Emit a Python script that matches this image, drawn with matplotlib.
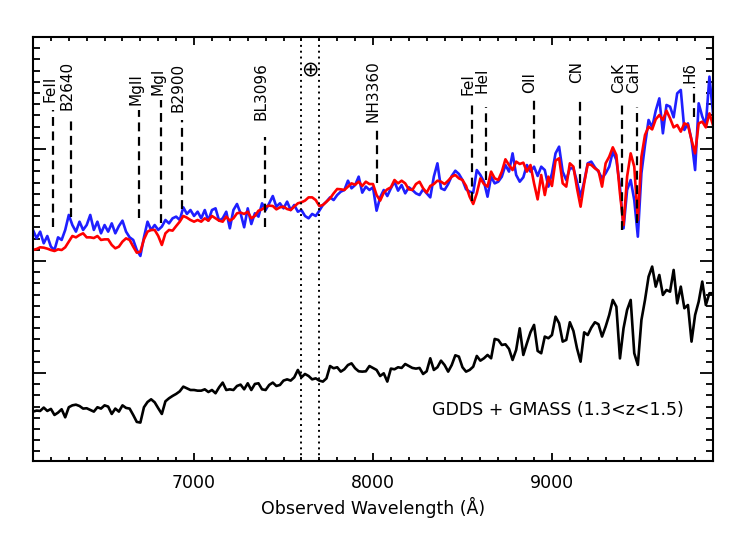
import numpy as np
import matplotlib
matplotlib.use('Agg')
import matplotlib.pyplot as plt
from matplotlib.ticker import MultipleLocator

# wavelength grid of the stacked spectra (Angstrom)
wave = np.arange(6100, 9901, 20)

# individual (blue) and model (red) spectrum, shifted up
flux_blue = [
    22.77, 22.02, 22.62, 21.58, 22.23, 21.28, 20.98, 22.11, 21.88, 22.77,
    24.11, 23.21, 22.62, 23.51, 22.77, 23.21, 24.11, 22.77, 23.51, 22.47,
    23.21, 22.62, 23.36, 22.47, 23.12, 23.60, 22.62, 22.11, 21.88, 20.98,
    20.45, 22.11, 23.51, 22.77, 23.21, 22.77, 23.07, 23.66, 23.36, 23.81,
    23.96, 23.66, 24.79, 24.20, 24.55, 24.02, 24.40, 23.81, 24.55, 23.60,
    24.55, 24.70, 23.60, 23.81, 24.40, 22.92, 24.55, 25.09, 24.26, 23.01,
    24.70, 23.30, 24.26, 23.96, 25.15,
    24.55, 25.15, 25.80, 24.85, 25.15, 24.70, 25.30, 24.55, 25.00, 24.40,
    24.55, 24.02, 23.81, 24.20, 24.02, 24.49, 25.00, 25.30, 25.68, 25.44,
    25.89, 26.19, 26.34, 27.17, 26.49, 26.78, 27.53, 26.10, 26.64, 26.34,
    26.58, 24.49, 25.68, 26.34, 25.80, 26.49, 27.08, 26.28, 26.78, 26.04,
    26.58, 26.34, 26.04, 25.89, 26.40, 26.04, 25.68, 27.53, 28.72, 26.49,
    26.34, 26.87, 27.59, 28.06, 27.77, 27.23, 26.40, 26.19, 26.10, 28.12,
    27.68, 27.08,
    25.74, 27.53, 26.93, 27.08, 27.53, 28.57, 27.98, 29.61, 27.68, 27.08,
    27.47, 28.57, 27.98, 28.42, 27.59, 28.42, 28.12, 26.64, 27.83, 29.61,
    30.21, 27.98, 27.23, 28.27, 28.27, 27.08, 25.74, 27.08, 28.72, 28.87,
    28.36, 27.98, 27.38, 27.83, 28.42, 29.76, 29.02, 26.64, 22.92, 26.34,
    27.23, 25.44, 22.17, 27.83, 30.36, 32.59, 31.93, 33.42, 34.52, 31.40,
    33.93, 33.78, 32.83, 34.97, 35.27, 31.70, 32.29, 30.80, 28.12, 34.08,
    32.89, 32.14, 36.46, 33.18,
]

flux_red = [
    20.98, 21.07, 21.22, 21.19, 21.10, 20.98, 20.89, 21.04, 20.98, 21.22,
    21.73, 22.23, 22.11, 22.32, 22.47, 22.11, 22.11, 22.05, 22.23, 21.88,
    21.93, 21.93, 21.43, 21.13, 21.28, 21.73, 22.02, 21.88, 21.28, 20.74,
    20.83, 21.93, 22.62, 22.77, 22.77, 22.23, 21.43, 22.47, 22.77, 22.71,
    23.12, 23.51, 24.02, 23.87, 23.66, 23.51, 23.66, 23.51, 23.81, 23.60,
    24.02, 23.81, 23.60, 23.51, 23.96, 23.60, 23.81, 24.26, 24.32, 24.20,
    24.40, 23.81, 24.02, 24.49, 24.61,
    24.85, 24.94, 24.91, 24.61, 24.79, 24.85, 24.64, 24.55, 24.85, 25.15,
    25.24, 25.39, 25.68, 25.68, 25.44, 24.91, 25.00, 25.30, 25.59, 26.04,
    26.43, 26.40, 26.34, 26.64, 26.93, 26.81, 27.08, 26.70, 27.08, 26.87,
    26.87, 25.89, 25.39, 26.10, 26.40, 26.58, 27.23, 26.93, 27.17, 26.93,
    26.40, 26.34, 26.87, 27.08, 26.49, 26.10, 26.70, 26.87, 27.17, 27.08,
    26.87, 27.17, 27.53, 27.68, 27.38, 27.23, 26.70, 25.74, 25.09, 26.04,
    27.38, 26.87,
    26.64, 27.98, 27.38, 27.23, 27.98, 29.08, 28.57, 28.12, 28.87, 28.66,
    28.78, 27.98, 28.57, 26.93, 25.50, 27.68, 25.89, 27.53, 26.70, 28.96,
    29.17, 26.93, 26.64, 28.72, 28.42, 26.49, 24.85, 26.93, 28.66, 28.57,
    28.27, 28.06, 26.64, 28.72, 29.31, 30.15, 29.46, 26.04, 23.21, 27.53,
    29.61, 28.42, 23.66, 29.31, 31.25, 31.99, 31.75, 32.65, 33.03, 32.59,
    33.42, 32.74, 31.93, 32.14, 31.55, 32.29, 32.14, 30.80, 29.61, 32.29,
    32.44, 31.93, 33.18, 32.14,
]

# GDDS + GMASS stack (black)
flux_stack = [
    6.55, 6.64, 6.61, 6.91, 6.61, 6.79, 6.25, 6.46, 6.76, 6.04,
    6.94, 7.11, 7.17, 7.05, 6.82, 6.85, 6.70, 6.55, 6.94, 6.82,
    7.11, 7.00, 6.34, 6.82, 6.55, 7.11, 6.88, 6.82, 6.25, 5.63,
    5.57, 6.94, 7.41, 7.65, 7.38, 6.85, 6.34, 7.47, 7.74, 7.95,
    8.13, 8.36, 8.78, 8.63, 8.48, 8.48, 8.42, 8.42, 8.54, 8.30,
    8.48, 8.19, 8.72, 9.14, 8.48, 8.54, 8.48, 8.84, 8.96, 8.54,
    9.08, 8.48, 9.02, 9.08, 8.54,
    8.48, 8.93, 9.14, 8.84, 8.93, 9.32, 9.43, 9.32, 9.61, 10.27,
    9.61, 9.91, 9.73, 9.43, 9.52, 9.32, 9.23, 9.52, 10.62, 10.42,
    10.51, 10.12, 10.33, 10.71, 10.86, 10.42, 10.15, 10.12, 10.15, 10.62,
    10.45, 10.27, 9.73, 9.97, 9.23, 10.39, 10.33, 10.51, 10.45, 10.80,
    10.62, 10.45, 10.39, 10.45, 9.91, 10.15, 11.31, 10.27, 10.51, 11.10,
    10.71, 10.12, 10.71, 11.58, 11.46, 10.51, 10.12, 10.27, 10.56, 11.52,
    11.10, 11.31,
    11.61, 11.31, 13.04, 12.95, 12.50, 12.56, 12.15, 11.16, 12.06, 13.99,
    11.61, 12.65, 13.63, 14.29, 11.97, 11.76, 13.25, 13.10, 13.39, 15.03,
    14.44, 12.80, 12.95, 14.53, 13.75, 12.20, 11.01, 13.63, 13.39, 14.05,
    14.53, 14.35, 13.25, 14.14, 15.18, 16.52, 15.92, 11.30, 13.99, 15.63,
    16.52, 11.76, 10.72, 14.73, 16.52, 18.60, 19.50, 17.71, 18.75, 16.97,
    17.41, 17.26, 19.20, 16.22, 17.71, 15.78, 16.07, 12.80, 15.18, 16.37,
    18.16, 16.07, 17.12, 17.12,
]

# spectral features: name, observed wavelength, dash bottom, dash top, label base
line_names = ['FeII', 'B2640', 'MgII', 'MgI', 'B2900', 'BL3096', 'NH3360',
              'FeI', 'HeI', 'OII', 'CN', 'CaK', 'CaH', 'H\u03b4']
line_wave = [6213, 6311, 6694, 6818, 6931, 7396, 8022,
             8551, 8630, 8897, 9155, 9392, 9476, 9793]
line_lo = [23.0, 23.9, 23.8, 23.4, 24.6, 23.0, 27.0,
           25.4, 27.2, 29.6, 27.0, 22.8, 23.4, 32.9]
line_hi = [33.5, 32.6, 33.5, 34.4, 32.6, 31.1, 31.9,
           34.2, 33.75, 34.4, 34.6, 34.4, 33.75, 35.5]
label_y = [34.2, 33.5, 33.9, 34.8, 33.3, 32.6, 32.4,
           34.8, 35.0, 35.0, 35.9, 35.0, 35.0, 35.9]

# telluric A band
telluric = [7600, 7700]

plt.rcParams['font.family'] = 'DejaVu Sans'

fig = plt.figure(figsize=(7.47, 5.34), dpi=100)
ax = fig.add_axes([33 / 747, 1 - 461 / 534, 680 / 747, 424 / 534])

ax.plot(wave, flux_blue, color='#1f1fff', lw=1.9)
ax.plot(wave, flux_red, color='#ff0000', lw=1.9)
ax.plot(wave, flux_stack, color='black', lw=1.9)

for t in telluric:
    ax.axvline(t, color='black', lw=1.4, linestyle=(0, (1, 2)))
ax.text(np.mean(telluric), 37.1, '\u2295', ha='center', va='center', fontsize=15)

ax.vlines(line_wave, line_lo, line_hi, colors='black', lw=1.6,
          linestyles=(0, (4, 2.5)))
for name, w, y in zip(line_names, line_wave, label_y):
    ax.annotate(name, (w, y), xytext=(-2.5, 0), textcoords='offset points',
                rotation=90, ha='center', va='bottom', fontsize=11)

ax.text(9735, 6.7, 'GDDS + GMASS (1.3<z<1.5)', ha='right', va='center',
        fontsize=12.5)

ax.set_xlim(6100, 9900)
ax.set_ylim(2.14, 40.0)
ax.xaxis.set_major_locator(MultipleLocator(1000))
ax.xaxis.set_minor_locator(MultipleLocator(100))
ax.yaxis.set_major_locator(MultipleLocator(10))
ax.yaxis.set_minor_locator(MultipleLocator(1))
ax.tick_params(axis='x', which='major', direction='in', top=True, length=6, width=1.3,
               labelsize=12.5, pad=9)
ax.tick_params(axis='x', which='minor', direction='in', top=True, length=3, width=1.3)
ax.tick_params(axis='y', which='major', direction='in', right=True, length=9.5, width=1.3,
               labelleft=False)
ax.tick_params(axis='y', which='minor', direction='in', right=True, length=4.8, width=1.3)
for s in ax.spines.values():
    s.set_linewidth(1.5)

ax.set_xlabel('Observed Wavelength (\u00c5)', fontsize=12.5, labelpad=4)

fig.savefig('out.png', dpi=100)
